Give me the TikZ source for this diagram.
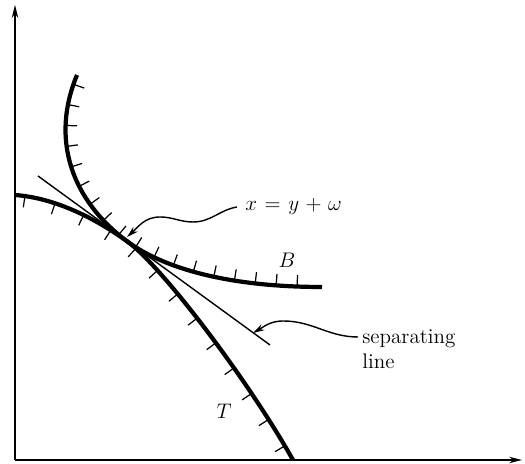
\documentclass[tikz,border=0pt]{standalone}
\usepackage{amsmath}
\usepackage{tikz}
\usetikzlibrary{positioning, arrows.meta, decorations.markings}

\begin{document}
\begin{tikzpicture}[
    >={Stealth[length=2.6mm, width=1.3mm]},
    axe/.style={->, line width=0.7pt},
    courbe/.style={line width=2.4pt},
    hachures/.style 2 args={postaction={decorate, decoration={markings,
        mark=between positions 0.2cm and -0.25cm step #2 with
        {\draw[line width=0.7pt] (0pt,0pt) -- (0pt,#1);}}}},
    droite/.style={line width=0.8pt},
    fleche/.style={-{Stealth[length=2.3mm, width=1.3mm]}, line width=0.8pt},
    etiquette/.style={inner sep=0pt, font=\fontsize{12}{14.5}\selectfont}]
    \useasboundingbox (0,0) rectangle (10.5,9.28);
    % axes
    \coordinate (O) at (0.30,0.08);
    \coordinate (haut) at (0.30,9.18);
    \coordinate (fin) at (10.44,0.08);
    \draw[axe] (O) -- (haut);
    \draw[axe] (O) -- (fin);
    % les deux courbes, tangentes au point de contact
    \coordinate (contact) at (2.56,4.44);
    \draw[courbe, hachures={-6.5pt}{0.62cm}] (0.30,5.38) .. controls (1.10,5.32) and (1.90,4.92) .. (contact)
        .. controls (3.20,3.98) and (4.90,1.78) .. (5.86,0.08);
    \draw[courbe, hachures={6.5pt}{0.42cm}] (1.54,7.78) .. controls (1.00,6.48) and (1.44,5.26) .. (contact)
        .. controls (3.30,3.90) and (4.60,3.54) .. (6.44,3.54);
    \node[etiquette] (B) at (5.74,4.08) {$B$};
    \node[etiquette] (T) at (4.48,1.06) {$T$};
    % droite de séparation
    \coordinate (sepA) at (0.76,5.76);
    \coordinate (sepB) at (5.40,2.38);
    \draw[droite] (sepA) -- (sepB);
    % légendes
    \node[etiquette, anchor=base west] (eq) at (4.90,5.06) {$x\mkern1.5mu=\mkern1.5mu y\mkern1.5mu+\mkern1.5mu\omega$};
    \node[etiquette, anchor=north west, align=left] (sep) at (7.24,2.70) {separating\\line};
    \coordinate (pointe1) at (2.54,4.54);
    \coordinate (pointe2) at (5.06,2.62);
    \draw[fleche] ([xshift=-1.6mm]eq.west) to[out=190,in=0] (3.86,4.84)
        to[out=180,in=0] (3.20,4.94) to[out=180,in=42] (pointe1);
    \draw[fleche] ([shift={(-0.08,-0.16)}]sep.north west) to[out=180,in=0] (5.66,2.86)
        to[out=180,in=30] (pointe2);
\end{tikzpicture}
\end{document}
